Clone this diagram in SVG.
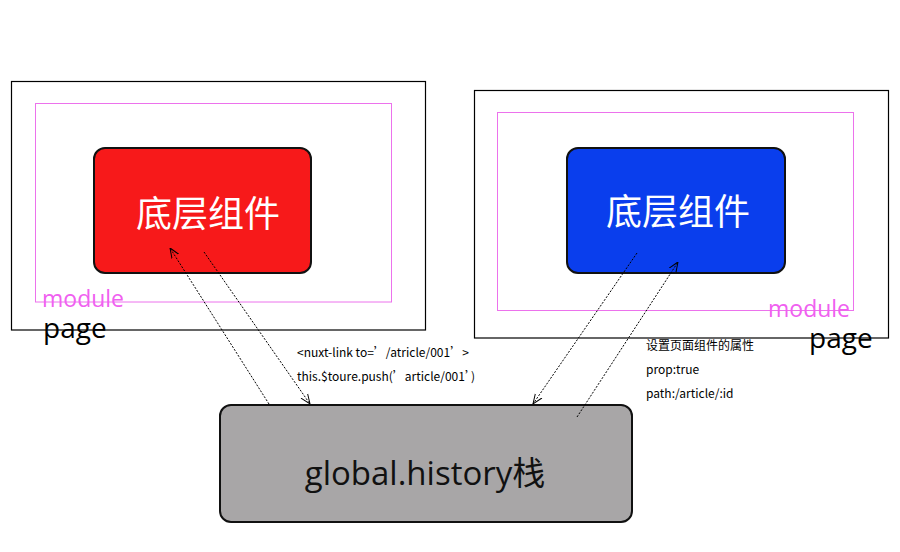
<svg xmlns="http://www.w3.org/2000/svg" width="900" height="552" viewBox="0 0 900 552">
<style>
.page{fill:none;stroke:#000;stroke-width:1.2}
.mod{fill:none;stroke:#ec72ec;stroke-width:1}
.comp{stroke:#111;stroke-width:2}
.big{font-family:"Noto Sans CJK SC","Open Sans",sans-serif;fill:#fff;font-size:36px;text-anchor:middle}
.modt{font-family:"Open Sans","Noto Sans",sans-serif;fill:#f060f0;font-size:23px}
.paget{font-family:"Open Sans","Noto Sans",sans-serif;fill:#000;font-size:28px}
.small{font-family:"Noto Sans CJK SC","Liberation Sans",sans-serif;font-size:12px;fill:#000}
.conn{fill:none;stroke:#000;stroke-width:1;stroke-dasharray:2 1.5}
</style>
<defs>
<marker id="ah" viewBox="0 0 10 10" refX="10" refY="5" markerWidth="10" markerHeight="10" markerUnits="userSpaceOnUse" orient="auto">
<path d="M0,1 L10,5 L0,9" fill="none" stroke="#000" stroke-width="1"/>
</marker>
</defs>
<rect width="900" height="552" fill="#fff"/>
<g id="left-page">
<rect class="page" x="11.5" y="81.5" width="414" height="248.5"/>
<text class="paget" x="43" y="338">page</text>
</g>
<g id="left-module">
<rect class="mod" x="35.5" y="103.5" width="356" height="198.5"/>
<text class="modt" x="42" y="307">module</text>
</g>
<g id="left-component">
<rect class="comp" x="94" y="148" width="217" height="125" rx="11" fill="#f7191a"/>
<text class="big" x="208" y="227">底层组件</text>
</g>
<g id="right-page">
<rect class="page" x="474.5" y="90.5" width="414" height="247.5"/>
<text class="paget" x="809" y="348">page</text>
</g>
<g id="right-module">
<rect class="mod" x="497.5" y="112.5" width="356" height="198"/>
<text class="modt" x="768" y="317">module</text>
</g>
<g id="right-component">
<rect class="comp" x="567" y="148" width="218" height="125" rx="11" fill="#0a3eed"/>
<text class="big" x="678" y="225">底层组件</text>
</g>
<g id="history">
<rect class="comp" x="220" y="405" width="412" height="117" rx="11" fill="#a8a6a7"/>
<text x="425" y="485" font-family="'Open Sans','Noto Sans CJK SC',sans-serif" font-size="33" text-anchor="middle" fill="#111">global.history栈</text>
</g>
<g id="connectors">
<line class="conn" x1="269" y1="404" x2="170" y2="248" marker-end="url(#ah)"/>
<line class="conn" x1="204" y1="252" x2="310" y2="404" marker-end="url(#ah)"/>
<line class="conn" x1="637" y1="253" x2="533" y2="404" marker-end="url(#ah)"/>
<line class="conn" x1="577" y1="417" x2="678" y2="262" marker-end="url(#ah)"/>
</g>
<g id="labels">
<text class="small" x="297" y="357">&lt;nuxt-link to=’/atricle/001’&gt;</text>
<text class="small" x="297" y="381">this.$toure.push(’article/001’)</text>
<text class="small" x="646" y="350">设置页面组件的属性</text>
<text class="small" x="646" y="374">prop:true</text>
<text class="small" x="646" y="398">path:/article/:id</text>
</g>
</svg>
